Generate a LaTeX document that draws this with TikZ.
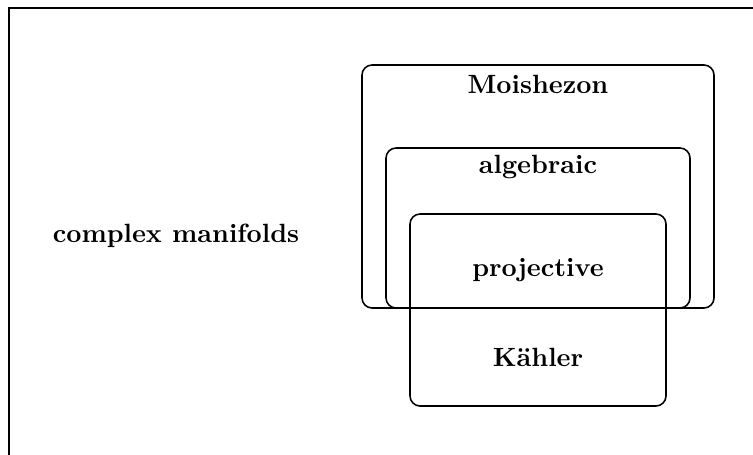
\documentclass[tikz,border=0pt]{standalone}
\begin{document}
\begin{tikzpicture}[x=0.379pt,y=-0.379pt,
  region/.style={draw,line width=0.6pt,rounded corners=3.8pt},
  lbl/.style={font=\bfseries,inner sep=0pt}]
\useasboundingbox (0,0) rectangle (753,455);
\begin{scope}
\clip (0,0) rectangle (753,455);
\draw[line width=0.8pt] (9,470) -- (9,8) -- (770,8);
\end{scope}
\draw[region] (362,65) rectangle (714,308);
\draw[region] (386,148) rectangle (690,308);
\draw[region] (410,214) rectangle (666,406);
\node[lbl] (cm) at (176,236) {complex manifolds};
\node[lbl] (moi) at (538,84) {Moishezon};
\node[lbl] (alg) at (538,167) {algebraic};
\node[lbl] (proj) at (538,270) {projective};
\node[lbl] (kah) at (538,357) {K\"ahler};
\end{tikzpicture}
\end{document}
